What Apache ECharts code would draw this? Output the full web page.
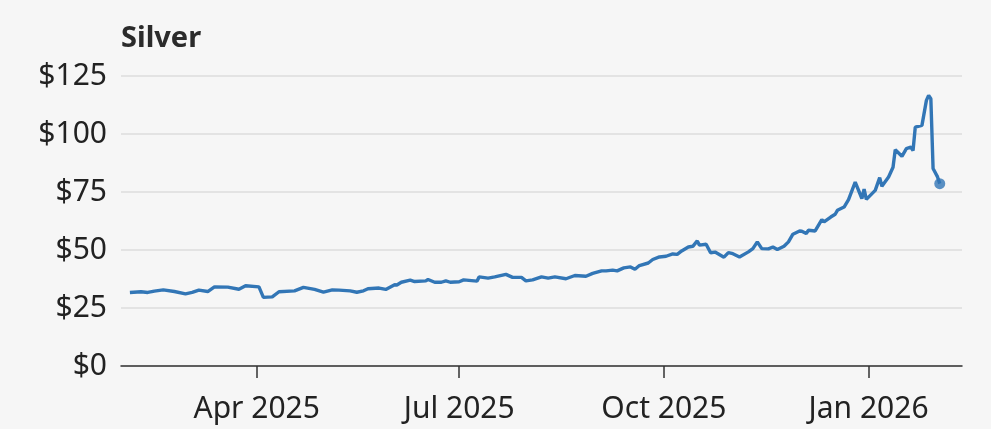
<!DOCTYPE html>
<html>
<head>
<meta charset="utf-8">
<style>
  html, body { margin: 0; padding: 0; background: #f6f6f6; }
  #chart { width: 991px; height: 429px; }
</style>
<script src="https://cdn.jsdelivr.net/npm/echarts@6/dist/echarts.min.js"></script>
</head>
<body>
<div id="chart"></div>
<script>
const titleText = 'Silver';
const yTicks = [0, 25, 50, 75, 100, 125];
const tickDates = ['2025-04-01', '2025-07-01', '2025-10-01', '2026-01-01'];
const tickLabels = ['Apr 2025', 'Jul 2025', 'Oct 2025', 'Jan 2026'];
const axisStart = '2025-01-30';
const axisEnd = '2026-02-12';

const dates = [
  '2025-02-03','2025-02-08','2025-02-11','2025-02-14','2025-02-18','2025-02-23','2025-02-28',
  '2025-03-03','2025-03-06','2025-03-10','2025-03-13','2025-03-19','2025-03-24','2025-03-27',
  '2025-04-02','2025-04-04','2025-04-08','2025-04-11','2025-04-18','2025-04-22','2025-04-27',
  '2025-05-01','2025-05-05','2025-05-08','2025-05-13','2025-05-16','2025-05-19','2025-05-21','2025-05-26','2025-05-29',
  '2025-06-02','2025-06-03','2025-06-05','2025-06-09','2025-06-11','2025-06-16','2025-06-17','2025-06-20','2025-06-23','2025-06-25','2025-06-27',
  '2025-07-01','2025-07-03','2025-07-09','2025-07-10','2025-07-14','2025-07-17','2025-07-22','2025-07-25','2025-07-29','2025-07-31',
  '2025-08-03','2025-08-07','2025-08-10','2025-08-13','2025-08-18','2025-08-22','2025-08-27','2025-08-30',
  '2025-09-03','2025-09-05','2025-09-08','2025-09-10','2025-09-13','2025-09-16','2025-09-18','2025-09-20','2025-09-24','2025-09-26','2025-09-29',
  '2025-10-02','2025-10-05','2025-10-07','2025-10-09','2025-10-12','2025-10-14','2025-10-16','2025-10-17','2025-10-20','2025-10-22','2025-10-24','2025-10-28','2025-10-30',
  '2025-11-01','2025-11-04','2025-11-08','2025-11-10','2025-11-12','2025-11-14','2025-11-17','2025-11-19','2025-11-21','2025-11-24','2025-11-26','2025-11-28',
  '2025-12-01','2025-12-02','2025-12-04','2025-12-05','2025-12-08','2025-12-11','2025-12-12','2025-12-15','2025-12-17','2025-12-18','2025-12-21','2025-12-23','2025-12-26','2025-12-29','2025-12-30','2025-12-31',
  '2026-01-04','2026-01-06','2026-01-07','2026-01-10','2026-01-12','2026-01-13','2026-01-16','2026-01-18','2026-01-20','2026-01-21','2026-01-22','2026-01-25','2026-01-27','2026-01-28','2026-01-29','2026-01-30',
  '2026-02-01','2026-02-02'
];
const prices = [
  31.7,32.0,31.7,32.3,32.8,32.1,31.1,
  31.7,32.7,32.1,34.1,34.0,33.1,34.6,
  34.1,29.6,29.8,32.0,32.4,33.9,33.0,
  31.8,32.8,32.7,32.4,31.8,32.4,33.3,33.6,33.0,
  35.0,34.9,36.1,37.0,36.4,36.7,37.3,36.1,36.1,36.7,36.1,
  36.3,37.1,36.6,38.4,37.9,38.4,39.5,38.2,38.2,36.7,
  37.1,38.4,37.9,38.4,37.6,39.0,38.7,39.9,
  41.0,41.0,41.3,41.0,42.3,42.7,41.7,43.3,44.4,45.9,47.0,
  47.3,48.3,48.1,49.6,51.3,51.6,53.9,52.1,52.5,48.8,49.1,46.9,48.9,
  48.4,47.0,49.2,50.6,53.5,50.6,50.5,51.3,50.2,51.6,53.5,56.8,
  58.2,58.1,57.1,58.5,58.2,63.1,62.1,64.2,65.4,67.1,68.5,71.7,79.3,72.2,76.2,71.8,
  75.7,81.2,77.5,81.5,85.7,93.2,90.4,93.7,94.4,92.9,103.0,103.7,114.5,116.6,115.2,85.1,
  81.5,78.6
];

const lineColor = '#3276b6';
const font = 'Noto Sans';

function ts(s) { const p = s.split('-').map(Number); return Date.UTC(p[0], p[1] - 1, p[2]); }
const tickTs = tickDates.map(ts);
const seriesData = dates.map((d, i) => [ts(d), prices[i]]);
const last = seriesData[seriesData.length - 1];

const chart = echarts.init(document.getElementById('chart'), null, { renderer: 'canvas' });
chart.setOption({
  backgroundColor: '#f6f6f6',
  animation: false,
  title: {
    text: titleText,
    left: 116,
    top: 19,
    textStyle: { fontFamily: font, fontSize: 29, fontWeight: 'bold', color: '#2b2b2b' }
  },
  grid: { left: 121, right: 29, top: 76, bottom: 63, containLabel: false },
  xAxis: {
    type: 'value',
    min: ts(axisStart),
    max: ts(axisEnd),
    axisLine: { show: true, lineStyle: { color: '#333', width: 1.5 } },
    axisTick: { show: true, length: 12, lineStyle: { color: '#333', width: 1.5 }, customValues: tickTs },
    splitLine: { show: false },
    minorTick: { show: false },
    axisLabel: {
      customValues: tickTs,
      margin: 28,
      fontFamily: font,
      fontSize: 30,
      color: '#222',
      formatter: function (v) {
        const i = tickTs.indexOf(v);
        return i >= 0 ? tickLabels[i] : '';
      }
    }
  },
  yAxis: {
    type: 'value',
    min: yTicks[0],
    max: yTicks[yTicks.length - 1],
    interval: 25,
    axisLine: { show: false },
    axisTick: { show: false },
    splitLine: { show: true, lineStyle: { color: '#dcdcdc', width: 1.5 } },
    axisLabel: {
      margin: 14,
      fontFamily: font,
      fontSize: 30,
      color: '#222',
      formatter: function (v) { return '$' + v; }
    }
  },
  series: [
    {
      type: 'line',
      data: seriesData,
      symbol: 'none',
      lineStyle: { color: lineColor, width: 3.4 },
      z: 3
    },
    {
      type: 'scatter',
      data: [last],
      symbol: 'circle',
      symbolSize: 11,
      itemStyle: { color: lineColor },
      z: 4
    }
  ]
});
</script>
</body>
</html>
